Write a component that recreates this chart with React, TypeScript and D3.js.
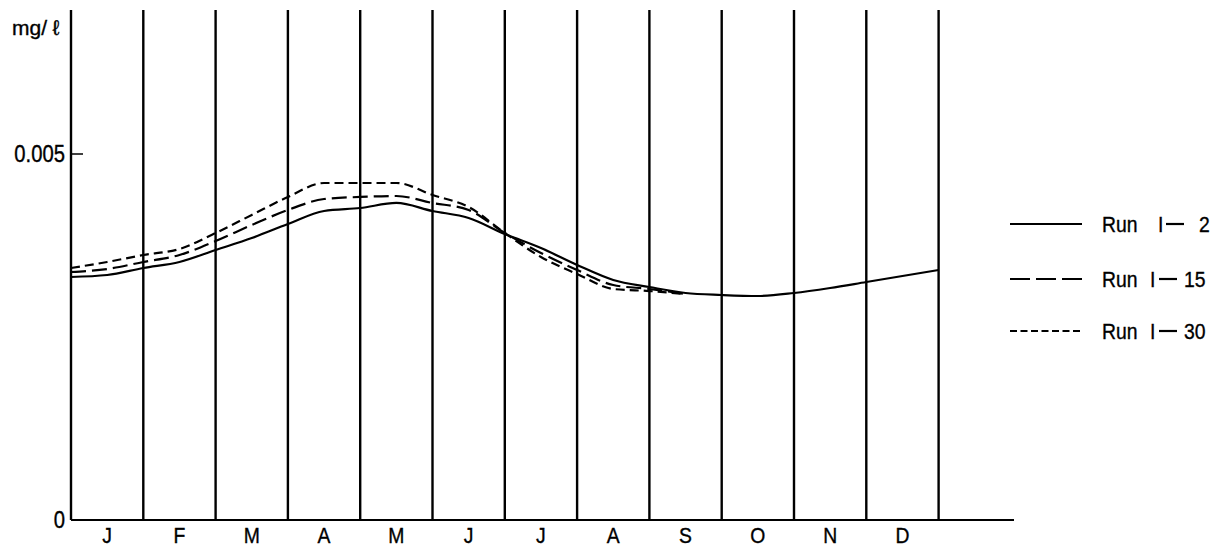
import React from "react";
import * as d3 from "d3";

// month labels along the bottom
const months = ["J", "F", "M", "A", "M", "J", "J", "A", "S", "O", "N", "D"];

// time in months (half-month steps)
const tSolid = [0, 0.5, 1, 1.5, 2, 2.5, 3, 3.5, 4, 4.5, 5, 5.5, 6, 6.5, 7, 7.5, 8, 8.5, 9, 9.5, 10, 10.5, 11, 11.5, 12];
const tDashed = [0, 0.5, 1, 1.5, 2, 2.5, 3, 3.5, 4, 4.5, 5, 5.5, 6, 6.5, 7, 7.5, 8, 8.5];

// concentration (mg/l)
const run1_2 = [
  0.00332, 0.003347, 0.003443, 0.003525, 0.003689, 0.003852, 0.004044, 0.004221, 0.004262,
  0.004331, 0.004221, 0.004126, 0.003907, 0.003716, 0.003484, 0.003279, 0.003183, 0.003101,
  0.003074, 0.00306, 0.003101, 0.003169, 0.003251, 0.003333, 0.003415,
];
const run1_15 = [
  0.003388, 0.003429, 0.003525, 0.00362, 0.003811, 0.00403, 0.004235, 0.004385, 0.004413,
  0.004426, 0.004331, 0.004235, 0.003921, 0.003648, 0.003415, 0.00321, 0.003156, 0.003087,
];
const run1_30 = [
  0.003443, 0.003525, 0.00362, 0.003702, 0.003921, 0.004167, 0.004413, 0.004604, 0.004604,
  0.004604, 0.00444, 0.004276, 0.003921, 0.003593, 0.003361, 0.003156, 0.003128, 0.003087,
];

const yTicks = [0, 0.005];
const yTickLabels = ["0", "0.005"];
const runNumbers = ["2", "15", "30"];

const font = "'Liberation Sans', Arial, sans-serif";

// condensed text, like the old typeset labels
const Label = ({ x, y, size, anchor = "start", children }: any) => (
  <text
    transform={`translate(${x},${y}) scale(0.88,1)`}
    textAnchor={anchor}
    fontSize={size}
    stroke="#000"
    strokeWidth={0.35}
    xmlSpace="preserve"
  >
    {children}
  </text>
);

export default function App() {
  const width = 1231;
  const height = 546;

  const x = d3.scaleLinear().domain([0, 12]).range([71, 938.6]);
  const y = d3.scaleLinear().domain([0, 0.005]).range([520, 154]);
  const top = 10;

  const line = d3
    .line<[number, number]>()
    .x((d) => x(d[0]))
    .y((d) => y(d[1]))
    .curve(d3.curveMonotoneX);

  const series = [
    { t: tSolid, v: run1_2, dash: undefined, legendDash: undefined },
    { t: tDashed, v: run1_15, dash: "15,6", legendDash: "20,6" },
    { t: tDashed, v: run1_30, dash: "9,5", legendDash: "7,3.5" },
  ];
  const legendY = [224, 279, 331];
  // offsets of "I", dash and number, relative to the legend text start
  const iX = [56, 48, 48];
  const dashX = [64, 57, 57];
  const numX = [97, 82, 82];

  return (
    <svg
      width={width}
      height={height}
      style={{ position: "absolute", left: 0, top: 0, background: "#fff", fontFamily: font }}
    >
      {/* month dividers */}
      {d3.range(13).map((k) => (
        <line key={k} x1={x(k)} x2={x(k)} y1={top} y2={y(0)} stroke="#000" strokeWidth={2.4} />
      ))}
      {/* baseline */}
      <line x1={x(0)} x2={1014} y1={y(0)} y2={y(0)} stroke="#000" strokeWidth={2} />

      {/* y ticks */}
      {yTicks.map((t, i) => (
        <g key={i}>
          {t > 0 && <line x1={x(0)} x2={x(0) + 12} y1={y(t)} y2={y(t)} stroke="#000" strokeWidth={1.5} />}
          <Label x={65} y={y(t) + 8} size={23} anchor="end">
            {yTickLabels[i]}
          </Label>
        </g>
      ))}
      <text x={12} y={35} fontSize={21} stroke="#000" strokeWidth={0.35} xmlSpace="preserve">
        mg/ ℓ
      </text>

      {/* month labels */}
      {months.map((m, i) => (
        <Label key={i} x={x(i + 0.5)} y={543} size={22} anchor="middle">
          {m}
        </Label>
      ))}

      {/* curves */}
      {series.map((s, i) => (
        <path
          key={i}
          d={line(s.t.map((t, j) => [t, s.v[j]] as [number, number])) || ""}
          fill="none"
          stroke="#000"
          strokeWidth={2.2}
          strokeDasharray={s.dash}
        />
      ))}

      {/* legend */}
      {series.map((s, i) => (
        <g key={i}>
          <line
            x1={1010}
            x2={1082}
            y1={legendY[i]}
            y2={legendY[i]}
            stroke="#000"
            strokeWidth={2}
            strokeDasharray={s.legendDash}
          />
          <Label x={1102} y={legendY[i] + 8} size={22}>
            Run
          </Label>
          <Label x={1102 + iX[i]} y={legendY[i] + 8} size={22}>
            I
          </Label>
          <line
            x1={1102 + dashX[i]}
            x2={1102 + dashX[i] + 18}
            y1={legendY[i]}
            y2={legendY[i]}
            stroke="#000"
            strokeWidth={2.2}
          />
          <Label x={1102 + numX[i]} y={legendY[i] + 8} size={22}>
            {runNumbers[i]}
          </Label>
        </g>
      ))}
    </svg>
  );
}
